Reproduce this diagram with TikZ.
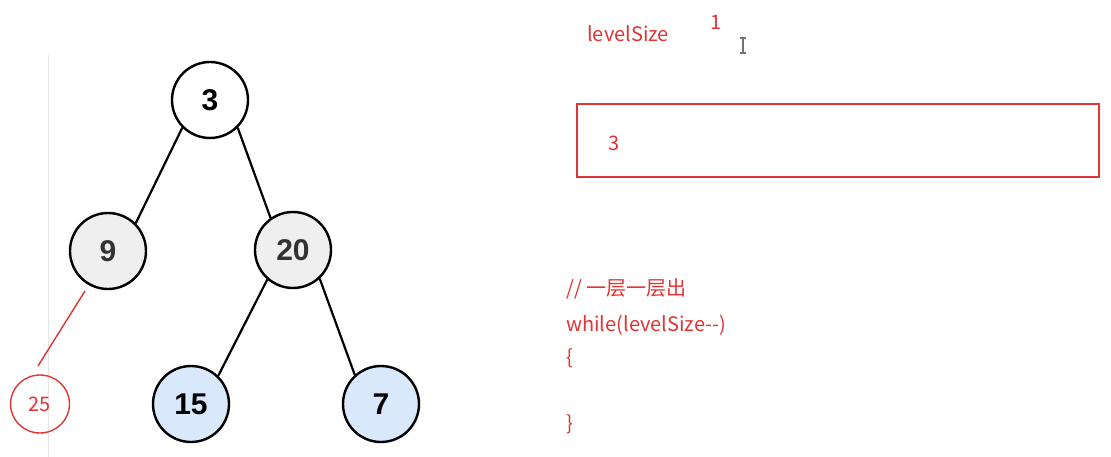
\documentclass[tikz,border=0pt]{standalone}
\usepackage{fontspec}
\usetikzlibrary{shapes.geometric}
\setmainfont{Liberation Sans}
\newfontfamily\cjk{Noto Sans CJK SC}
\definecolor{redink}{RGB}{226,52,52}
\definecolor{greyfill}{RGB}{239,239,239}
\definecolor{bluefill}{RGB}{218,232,252}
\begin{document}
\begin{tikzpicture}[x=1pt,y=-1pt,
  tnode/.style={circle,draw=black,line width=2.4pt,minimum size=76pt,inner sep=0pt,font=\fontsize{30}{32}\selectfont\bfseries},
  edge/.style={line width=2.2pt,black},
  redtxt/.style={text=redink,font=\cjk\fontsize{20}{22}\selectfont,inner sep=0pt},
  redline/.style={draw=redink,line width=1.4pt}]
\useasboundingbox (0,0) rectangle (1111,457);
\fill[white] (0,0) rectangle (1111,457);
\draw[black!10,line width=1pt] (48,55) -- (48,457);
% tree
\node[tnode,fill=white] (n3) at (210,100) {3};
\node[tnode,fill=greyfill,text=black!80] (n9) at (108,251) {9};
\node[tnode,fill=greyfill,text=black!80] (n20) at (293,250) {20};
\node[tnode,fill=bluefill] (n15) at (191,404) {15};
\node[tnode,fill=bluefill] (n7) at (381,404) {7};
\draw[edge] (n3.225) -- (n9.45);
\draw[edge] (n3.-45) -- (n20.125);
\draw[edge] (n20.229) -- (n15.46);
\draw[edge] (n20.-47) -- (n7.132);
% red annotation
\node[ellipse,redline,minimum width=59pt,minimum height=58pt,inner sep=0pt,text=redink,font=\cjk\fontsize{20}{22}\selectfont] (n25) at (40,404) {25};
\coordinate (c9) at (85,291);
\coordinate (c25) at (38,366);
\draw[redline] (c9) -- (c25);
% cursor
\draw[black!55,line width=1.2pt] (743,38) -- (743,53) (740,38) -- (746,38) (740,53) -- (746,53);
% right panel
\node[redtxt,anchor=west] (ls) at (587,34) {levelSize};
\node[redtxt,anchor=west] (one) at (710,22) {1};
\node[draw=redink,line width=1.8pt,minimum width=522pt,minimum height=73pt,inner sep=0pt] (box) at (838,140.5) {};
\node[redtxt,anchor=west] (q3) at (608,143) {3};
\node[redtxt,anchor=west] (c1) at (566,289) {// 一层一层出};
\node[redtxt,anchor=west] (c2) at (566,325) {while(levelSize--)};
\node[redtxt,anchor=west] (c3) at (566,358) {\{};
\node[redtxt,anchor=west] (c4) at (566,424) {\}};
\end{tikzpicture}
\end{document}
